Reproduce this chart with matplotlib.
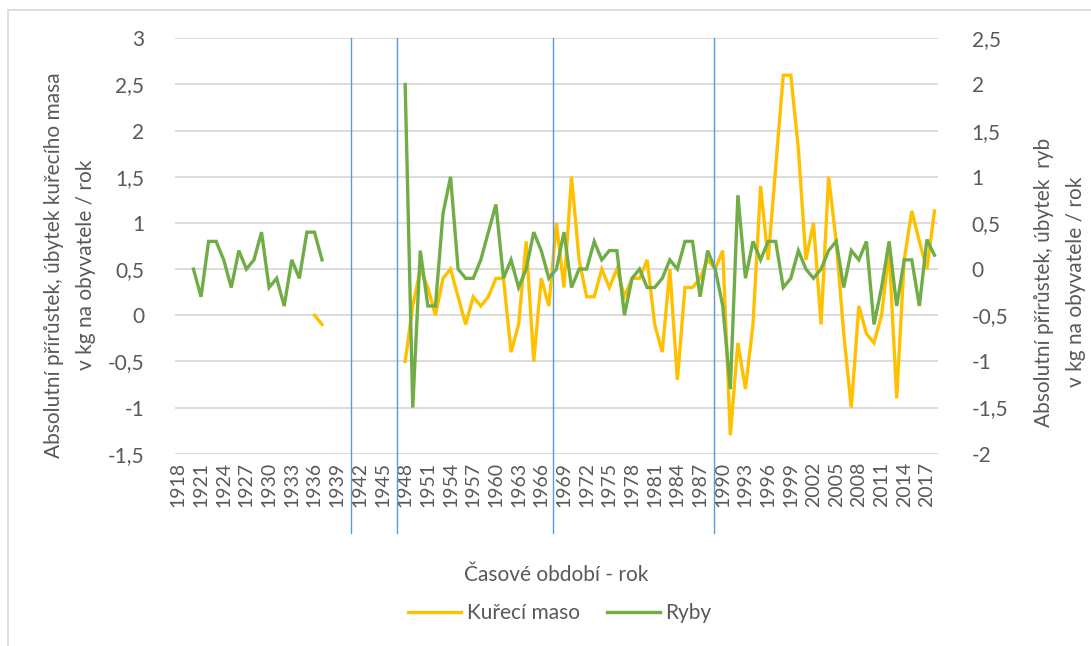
import numpy as np
import matplotlib.pyplot as plt
import matplotlib.transforms as mtransforms
from matplotlib.lines import Line2D

nan = np.nan
years = np.arange(1918, 2019)

# Kuřecí maso - left axis (kg / obyvatel / rok)
kure = ([nan] * 18 + [0.0, -0.1] + [nan] * 10 +
        [-0.5, 0.1, 0.5, 0.3, 0.0, 0.4, 0.5, 0.2, -0.1, 0.2,
         0.1, 0.2, 0.4, 0.4, -0.4, -0.1, 0.8, -0.5, 0.4, 0.1,
         1.0, 0.3, 1.5, 0.6, 0.2, 0.2, 0.5, 0.3, 0.5, 0.2,
         0.4, 0.4, 0.6, -0.1, -0.4, 0.5, -0.7, 0.3, 0.3, 0.4,
         0.6, 0.5, 0.7, -1.3, -0.3, -0.8, -0.1, 1.4, 0.6, 1.6,
         2.6, 2.6, 1.8, 0.6, 1.0, -0.1, 1.5, 0.8, -0.2, -1.0,
         0.1, -0.2, -0.3, 0.0, 0.7, -0.9, 0.6, 1.13, 0.8, 0.5,
         1.13])

# Ryby - right axis
ryby = ([nan] * 2 +
        [0.0, -0.3, 0.3, 0.3, 0.1, -0.2, 0.2, 0.0, 0.1, 0.4,
         -0.2, -0.1, -0.4, 0.1, -0.1, 0.4, 0.4, 0.1] + [nan] * 10 +
        [2.0, -1.5, 0.2, -0.4, -0.4, 0.6, 1.0, 0.0, -0.1, -0.1,
         0.1, 0.4, 0.7, -0.1, 0.1, -0.2, 0.0, 0.4, 0.2, -0.1,
         0.0, 0.4, -0.2, 0.0, 0.0, 0.3, 0.1, 0.2, 0.2, -0.5,
         -0.1, 0.0, -0.2, -0.2, -0.1, 0.1, 0.0, 0.3, 0.3, -0.3,
         0.2, 0.0, -0.4, -1.3, 0.8, -0.1, 0.3, 0.1, 0.3, 0.3,
         -0.2, -0.1, 0.2, 0.0, -0.1, 0.0, 0.2, 0.3, -0.2, 0.2,
         0.1, 0.3, -0.6, -0.2, 0.3, -0.4, 0.1, 0.1, -0.4, 0.32,
         0.15])

period_lines = [1940.85, 1946.9, 1967.6, 1988.9]
left_ticks = [-1.5, -1, -0.5, 0, 0.5, 1, 1.5, 2, 2.5, 3]
right_ticks = [-2, -1.5, -1, -0.5, 0, 0.5, 1, 1.5, 2, 2.5]

plt.rcParams['font.family'] = ['Lato', 'DejaVu Sans']
grey = '#595959'
yellow = '#FFC000'
green = '#70AD47'


def fmt(v):
    return ('%g' % v).replace('.', ',')


fig = plt.figure(figsize=(10.91, 6.46), dpi=100)
ax = fig.add_axes([0.160, 0.2977, 0.700, 0.643])
ax2 = ax.twinx()

ax.plot(years, kure, color=yellow, lw=2.4, solid_joinstyle='miter')
ax2.plot(years, ryby, color=green, lw=2.4, solid_joinstyle='miter')

ax.set_xlim(1917.5, 2018.5)
ax.set_ylim(-1.5, 3)
ax2.set_ylim(-2, 2.5)
ax.set_yticks(left_ticks)
ax.set_yticklabels([fmt(v) for v in left_ticks])
ax2.set_yticks(right_ticks)
ax2.set_yticklabels([fmt(v) for v in right_ticks])
ax.set_xticks(years[::3])
ax.set_xticklabels([str(y) for y in years[::3]], rotation=90)

ax.grid(axis='y', color='#d9d9d9', lw=1.3)
ax.set_axisbelow(True)
for a in (ax, ax2):
    for s in a.spines.values():
        s.set_visible(False)
    a.tick_params(length=0, labelsize=15, colors=grey)
ax.tick_params(axis='x', labelsize=14, pad=6)
ax.tick_params(axis='y', pad=22)
ax2.tick_params(axis='y', pad=24)

trans = mtransforms.blended_transform_factory(ax.transData, ax.transAxes)
for xv in period_lines:
    ax2.add_line(Line2D([xv, xv], [1.0, -0.19], transform=trans,
                        color='#5B9BD5', lw=1.0, clip_on=False))

ax.set_ylabel('Absolutní přírůstek, úbytek kuřecího masa\nv kg na obyvatele / rok',
              fontsize=15, color=grey, linespacing=1.75, va='center', ha='center')
ax.yaxis.set_label_coords(-0.137, 0.454)
ax2.set_ylabel('Absolutní přírůstek, úbytek  ryb\nv kg na obyvatele / rok',
               fontsize=15, color=grey, rotation=90, linespacing=1.75,
               va='center', ha='center')
ax2.yaxis.set_label_coords(1.159, 0.413)
ax.set_xlabel('Časové období - rok', fontsize=15, color=grey, va='center')
ax.xaxis.set_label_coords(0.5, -0.292)

handles = [Line2D([], [], color=yellow, lw=2.4), Line2D([], [], color=green, lw=2.4)]
fig.legend(handles, ['Kuřecí maso', 'Ryby'], loc='center', bbox_to_anchor=(0.513, 0.051),
           ncol=2, frameon=False, fontsize=15, labelcolor=grey, handlelength=2.55,
           columnspacing=1.3, handletextpad=0.25)

# chart frame
fig.add_artist(Line2D([8 / 1091, 8 / 1091], [0, 1 - 10 / 646], color='#d9d9d9', lw=1.2))
fig.add_artist(Line2D([8 / 1091, 1], [1 - 10 / 646, 1 - 10 / 646], color='#d9d9d9', lw=1.2))

fig.savefig('out.png', dpi=100)
